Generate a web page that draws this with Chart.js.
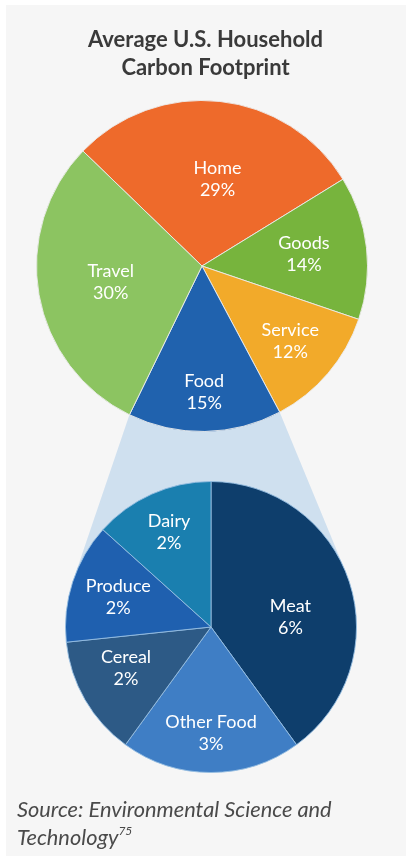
<!DOCTYPE html>
<html>
<head>
<meta charset="utf-8">
<script src="https://cdn.jsdelivr.net/npm/chart.js@4/dist/chart.umd.min.js"></script>
<style>
body{margin:0;background:#fff;width:411px;height:861px;position:relative;overflow:hidden;font-family:Lato,sans-serif}
#panel{position:absolute;left:6px;top:5px;width:400px;height:851px;background:#f6f6f6}
canvas{position:absolute;left:0;top:0}
#bottomPie{z-index:1}
#topPie{z-index:2}
#title{position:absolute;z-index:3;top:25px;left:0;width:411px;text-align:center;font-weight:bold;font-size:22px;line-height:28px;color:#3a3a3a}
#source{position:absolute;z-index:3;left:17px;top:795px;font-style:italic;font-size:21.8px;line-height:28px;color:#4a4a4a}
#source sup{font-size:12px;vertical-align:10px;line-height:0}
</style>
</head>
<body>
<div id="panel"></div>
<div id="title">Average U.S. Household<br>Carbon Footprint</div>
<canvas id="bottomPie" width="411" height="861"></canvas>
<canvas id="topPie" width="411" height="861"></canvas>
<div id="source">Source: Environmental Science and<br>Technology<sup>75</sup></div>
<script>
// household footprint (%)
const householdLabels = ["Home", "Goods", "Service", "Food", "Travel"]
const householdValues = [29, 14, 12, 15, 30]

// breakdown of the food slice (%)
const foodLabels = ["Meat", "Other Food", "Cereal", "Produce", "Dairy"]
const foodValues = [6, 3, 2, 2, 2]

const householdColors = ['#ee6a2b', '#77b43d', '#f2aa2a', '#2062ae', '#8cc461']
const foodColors = ['#0e3e6c', '#3f7ec5', '#2d5a86', '#1f60af', '#1a7faf']

// label placement: [fraction of radius, angle nudge in degrees]
const householdLabelPos = [[0.53, 4], [0.62, 0], [0.70, 0], [0.76, 0], [0.56, 0]]
const foodLabelPos = [[0.55, 11], [0.73, 0], [0.65, 4], [0.67, 0], [0.71, 0]]

const sliceLabels = {
  id: 'sliceLabels',
  afterDatasetsDraw(chart, args, opts) {
    const ctx = chart.ctx
    const meta = chart.getDatasetMeta(0)
    const values = chart.data.datasets[0].data
    ctx.save()
    ctx.fillStyle = '#fff'
    ctx.font = '18px Lato, sans-serif'
    ctx.textAlign = 'center'
    ctx.textBaseline = 'middle'
    meta.data.forEach((arc, i) => {
      const p = arc.getProps(['x', 'y', 'startAngle', 'endAngle', 'outerRadius'], true)
      const pos = opts.pos[i]
      const mid = (p.startAngle + p.endAngle) / 2 + pos[1] * Math.PI / 180
      const r = p.outerRadius * pos[0]
      const cx = p.x + Math.cos(mid) * r
      const cy = p.y + Math.sin(mid) * r
      ctx.fillText(chart.data.labels[i], cx, cy - 11)
      ctx.fillText(values[i] + '%', cx, cy + 11)
    })
    ctx.restore()
  }
}

const baseOptions = (padding, rotation, pos) => ({
  responsive: false,
  animation: false,
  rotation: rotation,
  layout: { padding: padding },
  plugins: {
    legend: { display: false },
    tooltip: { enabled: false },
    sliceLabels: { pos: pos }
  }
})

const topChart = new Chart(document.getElementById('topPie'), {
  type: 'pie',
  data: {
    labels: householdLabels,
    datasets: [{
      data: householdValues,
      backgroundColor: householdColors,
      borderColor: 'rgba(235,235,235,0.9)',
      borderWidth: 1
    }]
  },
  options: baseOptions({ left: 36, right: 43, top: 100, bottom: 429 }, -46, householdLabelPos),
  plugins: [sliceLabels]
})

// light blue band from the food slice down to the breakdown pie
const connector = {
  id: 'connector',
  beforeDatasetsDraw(chart) {
    const food = topChart.getDatasetMeta(0).data[householdLabels.indexOf('Food')]
    const f = food.getProps(['x', 'y', 'startAngle', 'endAngle', 'outerRadius'], true)
    const c = chart.getDatasetMeta(0).data[0].getProps(['x', 'y', 'outerRadius'], true)
    const a = { x: f.x + Math.cos(f.endAngle) * f.outerRadius, y: f.y + Math.sin(f.endAngle) * f.outerRadius }
    const b = { x: f.x + Math.cos(f.startAngle) * f.outerRadius, y: f.y + Math.sin(f.startAngle) * f.outerRadius }
    const tangent = (p, side) => {
      const dx = c.x - p.x, dy = c.y - p.y
      const d = Math.hypot(dx, dy)
      const t = Math.atan2(dy, dx) + side * Math.asin(c.outerRadius / d)
      const len = Math.sqrt(d * d - c.outerRadius * c.outerRadius)
      return { x: p.x + Math.cos(t) * len, y: p.y + Math.sin(t) * len }
    }
    const ta = tangent(a, 1)
    const tb = tangent(b, -1)
    const ctx = chart.ctx
    ctx.save()
    ctx.fillStyle = '#cfe0ef'
    ctx.beginPath()
    ctx.moveTo(a.x, a.y)
    ctx.lineTo(b.x, b.y)
    ctx.lineTo(tb.x, tb.y)
    ctx.lineTo(c.x, c.y)
    ctx.lineTo(ta.x, ta.y)
    ctx.closePath()
    ctx.fill()
    ctx.restore()
  }
}

new Chart(document.getElementById('bottomPie'), {
  type: 'pie',
  data: {
    labels: foodLabels,
    datasets: [{
      data: foodValues,
      backgroundColor: foodColors,
      borderColor: 'rgba(150,190,225,0.9)',
      borderWidth: 1
    }]
  },
  options: baseOptions({ left: 65, right: 54, top: 481, bottom: 88 }, 0, foodLabelPos),
  plugins: [connector, sliceLabels]
})
</script>
</body>
</html>
